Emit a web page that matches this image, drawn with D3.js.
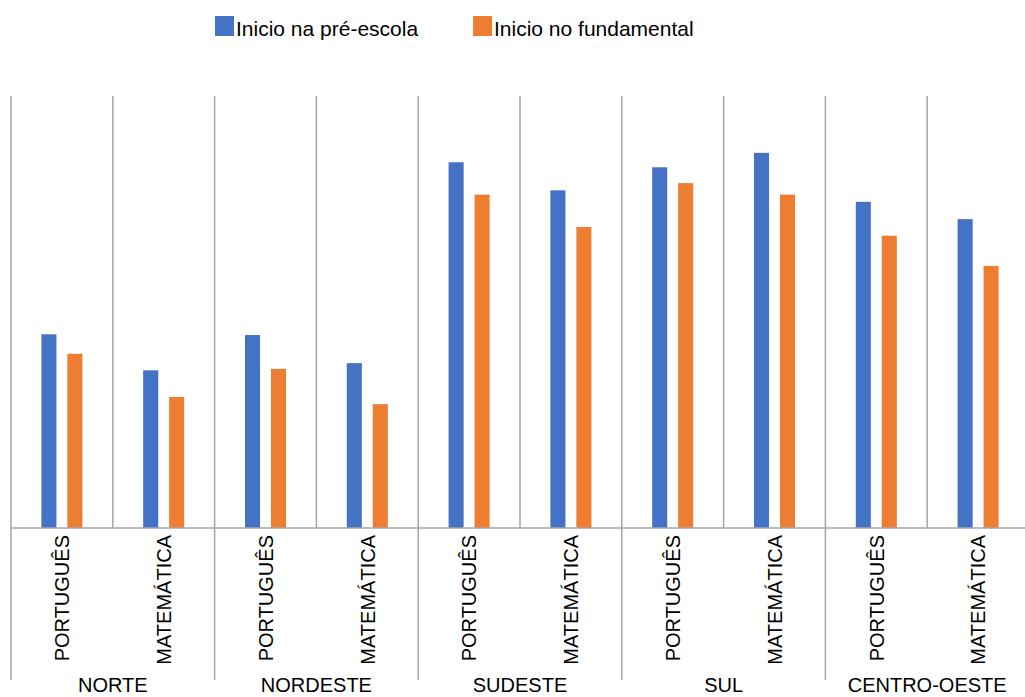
<!DOCTYPE html>
<html>
<head>
<meta charset="utf-8">
<script src="https://cdn.jsdelivr.net/npm/d3@7"></script>
<style>
  html, body { margin: 0; padding: 0; background: #fff; }
  svg { display: block; font-family: "Liberation Sans", Arial, sans-serif; }
</style>
</head>
<body>
<svg id="chart" width="1025" height="697"></svg>
<script>
// Regions, subjects and the two series (share of students, %)
const regions = ["NORTE", "NORDESTE", "SUDESTE", "SUL", "CENTRO-OESTE"];
const subjects = ["PORTUGUÊS", "MATEMÁTICA"];
const seriesNames = ["Inicio na pré-escola", "Inicio no fundamental"];
const preEscola =   [26.9, 21.9, 26.8, 22.9, 50.8, 46.9, 50.1, 52.1, 45.3, 42.9];
const fundamental = [24.2, 18.2, 22.1, 17.2, 46.3, 41.8, 47.9, 46.3, 40.6, 36.4];
const colors = ["#4472C4", "#ED7D31"];
const yMax = 60;

const svg = d3.select("#chart");
const plotTop = 96, plotBase = 528, plotLeft = 11, plotRight = 1029;

// one slot per (region, subject)
const slots = [];
regions.forEach(r => subjects.forEach(s => slots.push({ region: r, subject: s, key: r + "|" + s })));
slots.forEach((d, i) => { d.values = [preEscola[i], fundamental[i]]; });

const x0 = d3.scaleBand().domain(slots.map(d => d.key)).range([plotLeft, plotRight]).padding(0);
const x1 = d3.scaleBand().domain(seriesNames).range([0, x0.bandwidth()])
  .paddingInner(0.42).paddingOuter(1.17);
const y = d3.scaleLinear().domain([0, yMax]).range([plotBase, plotTop]);

const gridColor = "#a6a6a6";

// vertical separators: subject lines stop at the axis, region lines run down to the labels
slots.forEach((d, i) => {
  const xx = x0(d.key);
  const isRegionStart = i % subjects.length === 0;
  svg.append("line")
    .attr("x1", xx).attr("x2", xx)
    .attr("y1", plotTop).attr("y2", isRegionStart ? 680 : plotBase)
    .attr("stroke", gridColor).attr("stroke-width", 1.5);
});
svg.append("line")
  .attr("x1", plotRight).attr("x2", plotRight).attr("y1", plotTop).attr("y2", 680)
  .attr("stroke", gridColor).attr("stroke-width", 1.5);

// bars
const groups = svg.selectAll("g.slot").data(slots).join("g")
  .attr("class", "slot")
  .attr("transform", d => `translate(${x0(d.key)},0)`);
groups.selectAll("rect")
  .data(d => d.values.map((v, j) => ({ name: seriesNames[j], v, j })))
  .join("rect")
  .attr("x", d => x1(d.name))
  .attr("width", x1.bandwidth())
  .attr("y", d => y(d.v))
  .attr("height", d => plotBase - y(d.v))
  .attr("fill", d => colors[d.j]);

// category axis line
svg.append("line")
  .attr("x1", plotLeft).attr("x2", 1025).attr("y1", plotBase).attr("y2", plotBase)
  .attr("stroke", gridColor).attr("stroke-width", 1.5);

// subject labels, rotated
groups.append("text")
  .attr("transform", `translate(${x0.bandwidth() / 2},535) rotate(-90)`)
  .attr("text-anchor", "end")
  .attr("dy", "0.36em")
  .attr("font-size", 20)
  .attr("fill", "#000")
  .text(d => d.subject);

// region labels
regions.forEach(r => {
  const xa = x0(r + "|" + subjects[0]);
  const xb = x0(r + "|" + subjects[subjects.length - 1]) + x0.bandwidth();
  svg.append("text")
    .attr("x", (xa + xb) / 2)
    .attr("y", 692)
    .attr("text-anchor", "middle")
    .attr("font-size", 20)
    .attr("fill", "#000")
    .text(r);
});

// legend
const legendX = [215, 473];
seriesNames.forEach((name, i) => {
  const g = svg.append("g").attr("transform", `translate(${legendX[i]},0)`);
  g.append("rect").attr("x", 0).attr("y", 16).attr("width", 19).attr("height", 20)
    .attr("fill", colors[i]);
  g.append("text").attr("x", 21).attr("y", 36)
    .attr("font-size", 21).attr("fill", "#000").text(name);
});
</script>
</body>
</html>
